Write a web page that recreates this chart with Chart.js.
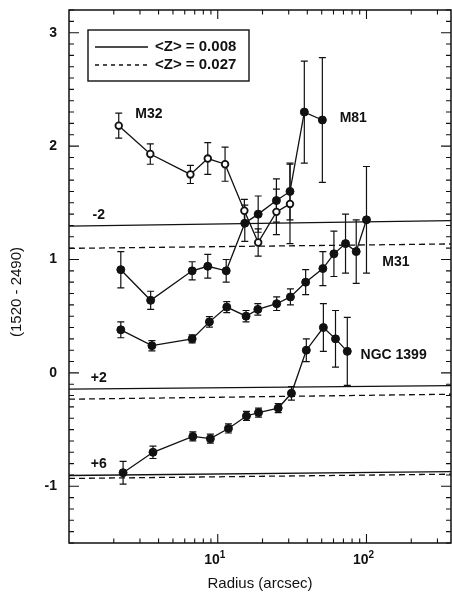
<!DOCTYPE html>
<html>
<head>
<meta charset="utf-8">
<script src="https://cdn.jsdelivr.net/npm/chart.js@4.4.1/dist/chart.umd.min.js"></script>
<style>
  html, body { margin: 0; padding: 0; background: #fff; }
  #wrap { width: 452px; height: 594px; }
</style>
</head>
<body>
<div id="wrap"><canvas id="chart" width="452" height="594"></canvas></div>
<script>
// radius in arcsec, colour (1520 - 2490), error half-length
const radiusM32 = [2.16, 3.52, 6.55, 8.57, 11.2, 15.1, 18.7, 24.8, 30.6];
const colorM32 = [2.18, 1.93, 1.75, 1.89, 1.84, 1.43, 1.15, 1.42, 1.49];
const errM32 = [0.11, 0.09, 0.08, 0.14, 0.15, 0.10, 0.12, 0.20, 0.35];

const radiusM81 = [2.23, 3.54, 6.73, 8.57, 11.4, 15.2, 18.7, 24.8, 30.6, 38.2, 50.5];
const colorM81 = [0.91, 0.64, 0.90, 0.94, 0.90, 1.32, 1.40, 1.52, 1.60, 2.30, 2.23];
const errM81 = [0.16, 0.08, 0.08, 0.105, 0.10, 0.16, 0.16, 0.19, 0.25, 0.45, 0.55];

const radiusM31 = [2.23, 3.61, 6.73, 8.79, 11.5, 15.5, 18.6, 24.9, 30.8, 39.0, 50.9, 60.4, 72.3, 85.3, 100];
const colorM31 = [0.38, 0.24, 0.30, 0.45, 0.58, 0.50, 0.56, 0.61, 0.67, 0.80, 0.92, 1.05, 1.14, 1.07, 1.35];
const errM31 = [0.07, 0.045, 0.035, 0.047, 0.048, 0.05, 0.05, 0.06, 0.07, 0.11, 0.15, 0.20, 0.26, 0.28, 0.47];

const radiusN1399 = [2.31, 3.67, 6.80, 8.92, 11.8, 15.6, 18.8, 25.5, 31.3, 39.4, 51.3, 61.9, 74.3];
const colorN1399 = [-0.88, -0.70, -0.56, -0.58, -0.49, -0.38, -0.35, -0.31, -0.18, 0.20, 0.40, 0.30, 0.19];
const errN1399 = [0.10, 0.055, 0.04, 0.04, 0.04, 0.04, 0.04, 0.04, 0.06, 0.10, 0.21, 0.25, 0.30];

// model lines, value at left and right edge
const lineRadius = [1, 370];
const modelZ008 = [[1.295, 1.342], [-0.144, -0.112], [-0.905, -0.870]];
const modelZ027 = [[1.098, 1.137], [-0.232, -0.188], [-0.931, -0.893]];
const shiftLabels = ['-2', '+2', '+6'];
const shiftPos = [[1.44, 1.36], [1.40, -0.08], [1.40, -0.84]];

const galaxyLabels = ['M32', 'M81', 'M31', 'NGC 1399'];
const galaxyPos = [[2.79, 2.25], [66, 2.21], [127.8, 0.94], [91.2, 0.12]];

const yTicks = [-1, 0, 1, 2, 3];
const xTicks = [10, 100];

const pts = (xs, ys) => xs.map((x, i) => ({ x: x, y: ys[i] }));

const ink = '#111';

function series(label, xs, ys, open) {
    return {
        label: label,
        data: pts(xs, ys),
        showLine: true,
        borderColor: ink,
        borderWidth: 1.3,
        pointRadius: open ? 3.3 : 4,
        pointBorderWidth: open ? 1.8 : 1,
        pointBackgroundColor: open ? '#fff' : ink,
        pointBorderColor: ink,
        clip: false
    };
}

function model(vals, dashed) {
    return {
        data: pts(lineRadius, vals),
        showLine: true,
        borderColor: ink,
        borderWidth: 1.3,
        borderDash: dashed ? [6, 4] : [],
        pointRadius: 0
    };
}

const datasets = [
    series('M32', radiusM32, colorM32, true),
    series('M81', radiusM81, colorM81, false),
    series('M31', radiusM31, colorM31, false),
    series('NGC 1399', radiusN1399, colorN1399, false)
];
const errors = [errM32, errM81, errM31, errN1399];
modelZ008.forEach(v => datasets.push(model(v, false)));
modelZ027.forEach(v => datasets.push(model(v, true)));

const errorBars = {
    id: 'errorBars',
    beforeDatasetsDraw(chart) {
        const c = chart.ctx, y = chart.scales.y;
        c.save();
        c.strokeStyle = ink;
        c.lineWidth = 1.2;
        errors.forEach((err, i) => {
            const ds = chart.data.datasets[i];
            chart.getDatasetMeta(i).data.forEach((p, j) => {
                const v = ds.data[j].y;
                const top = y.getPixelForValue(v + err[j]);
                const bot = y.getPixelForValue(v - err[j]);
                c.beginPath();
                c.moveTo(p.x, top); c.lineTo(p.x, bot);
                c.moveTo(p.x - 3.5, top); c.lineTo(p.x + 3.5, top);
                c.moveTo(p.x - 3.5, bot); c.lineTo(p.x + 3.5, bot);
                c.stroke();
            });
        });
        c.restore();
    }
};

const frame = {
    id: 'frame',
    afterDraw(chart) {
        const c = chart.ctx, a = chart.chartArea;
        const xs = chart.scales.x, ys = chart.scales.y;
        c.save();
        c.strokeStyle = ink;
        c.fillStyle = ink;
        c.lineWidth = 1.5;
        c.strokeRect(a.left, a.top, a.right - a.left, a.bottom - a.top);

        // y ticks, both sides
        c.lineWidth = 1.1;
        c.beginPath();
        for (let k = -15; k <= 32; k++) {
            const v = k / 10;
            const py = ys.getPixelForValue(v);
            const len = (k % 10 === 0) ? 10 : 5;
            c.moveTo(a.left, py); c.lineTo(a.left + len, py);
            c.moveTo(a.right, py); c.lineTo(a.right - len, py);
        }
        // x ticks, bottom and top
        for (let d = 1; d <= 100; d *= 10) {
            for (let m = 1; m <= 9; m++) {
                const v = d * m;
                if (v <= xs.min || v >= xs.max) continue;
                const px = xs.getPixelForValue(v);
                const len = m === 1 ? 9 : 4.5;
                c.moveTo(px, a.bottom); c.lineTo(px, a.bottom - len);
                c.moveTo(px, a.top); c.lineTo(px, a.top + len);
            }
        }
        c.stroke();

        // tick labels
        c.font = 'bold 14px "Liberation Sans", Arial, sans-serif';
        c.textAlign = 'right';
        c.textBaseline = 'middle';
        yTicks.forEach(v => c.fillText(String(v), 57, ys.getPixelForValue(v)));
        c.textBaseline = 'alphabetic';
        xTicks.forEach(v => {
            const px = xs.getPixelForValue(v);
            const exp = String(Math.round(Math.log10(v)));
            c.font = 'bold 14px "Liberation Sans", Arial, sans-serif';
            c.textAlign = 'right';
            c.fillText('10', px + 2, a.bottom + 21);
            c.font = 'bold 10px "Liberation Sans", Arial, sans-serif';
            c.textAlign = 'left';
            c.fillText(exp, px + 2, a.bottom + 15);
        });

        // axis titles
        c.font = '15px "Liberation Sans", Arial, sans-serif';
        c.textAlign = 'center';
        c.textBaseline = 'middle';
        c.fillText('Radius (arcsec)', (a.left + a.right) / 2, a.bottom + 41);
        c.save();
        c.translate(17, 292);
        c.rotate(-Math.PI / 2);
        c.fillText('(1520 - 2490)', 0, 0);
        c.restore();

        // annotations
        c.font = 'bold 14px "Liberation Sans", Arial, sans-serif';
        c.textAlign = 'left';
        c.textBaseline = 'alphabetic';
        galaxyLabels.forEach((t, i) => {
            c.fillText(t, xs.getPixelForValue(galaxyPos[i][0]), ys.getPixelForValue(galaxyPos[i][1]));
        });
        shiftLabels.forEach((t, i) => {
            c.fillText(t, xs.getPixelForValue(shiftPos[i][0]), ys.getPixelForValue(shiftPos[i][1]));
        });

        // legend box
        const bx = a.left + 19, by = a.top + 20, bw = 161, bh = 51;
        c.fillStyle = '#fff';
        c.fillRect(bx, by, bw, bh);
        c.fillStyle = ink;
        c.lineWidth = 1.4;
        c.strokeRect(bx, by, bw, bh);
        c.lineWidth = 1.3;
        c.beginPath();
        c.moveTo(bx + 7, by + 17); c.lineTo(bx + 60, by + 17);
        c.stroke();
        c.setLineDash([4, 4]);
        c.beginPath();
        c.moveTo(bx + 7, by + 35); c.lineTo(bx + 60, by + 35);
        c.stroke();
        c.setLineDash([]);
        c.font = 'bold 15px "Liberation Sans", Arial, sans-serif';
        c.textBaseline = 'middle';
        c.fillText('<Z> = 0.008', bx + 67, by + 17);
        c.fillText('<Z> = 0.027', bx + 67, by + 35);
        c.restore();
    }
};

const chart = new Chart(document.getElementById('chart'), {
    type: 'scatter',
    data: { datasets: datasets },
    options: {
        responsive: false,
        animation: false,
        devicePixelRatio: 1,
        layout: { autoPadding: false, padding: { top: 10, right: 1, left: 0, bottom: 0 } },
        plugins: {
            legend: { display: false },
            tooltip: { enabled: false }
        },
        scales: {
            x: {
                type: 'logarithmic',
                min: 1,
                max: 370,
                ticks: { display: false },
                grid: { display: false },
                border: { display: false },
                afterFit: s => { s.height = 51; }
            },
            y: {
                min: -1.5,
                max: 3.2,
                ticks: { display: false },
                grid: { display: false },
                border: { display: false },
                afterFit: s => { s.width = 69; }
            }
        }
    },
    plugins: [errorBars, frame]
});
</script>
</body>
</html>
